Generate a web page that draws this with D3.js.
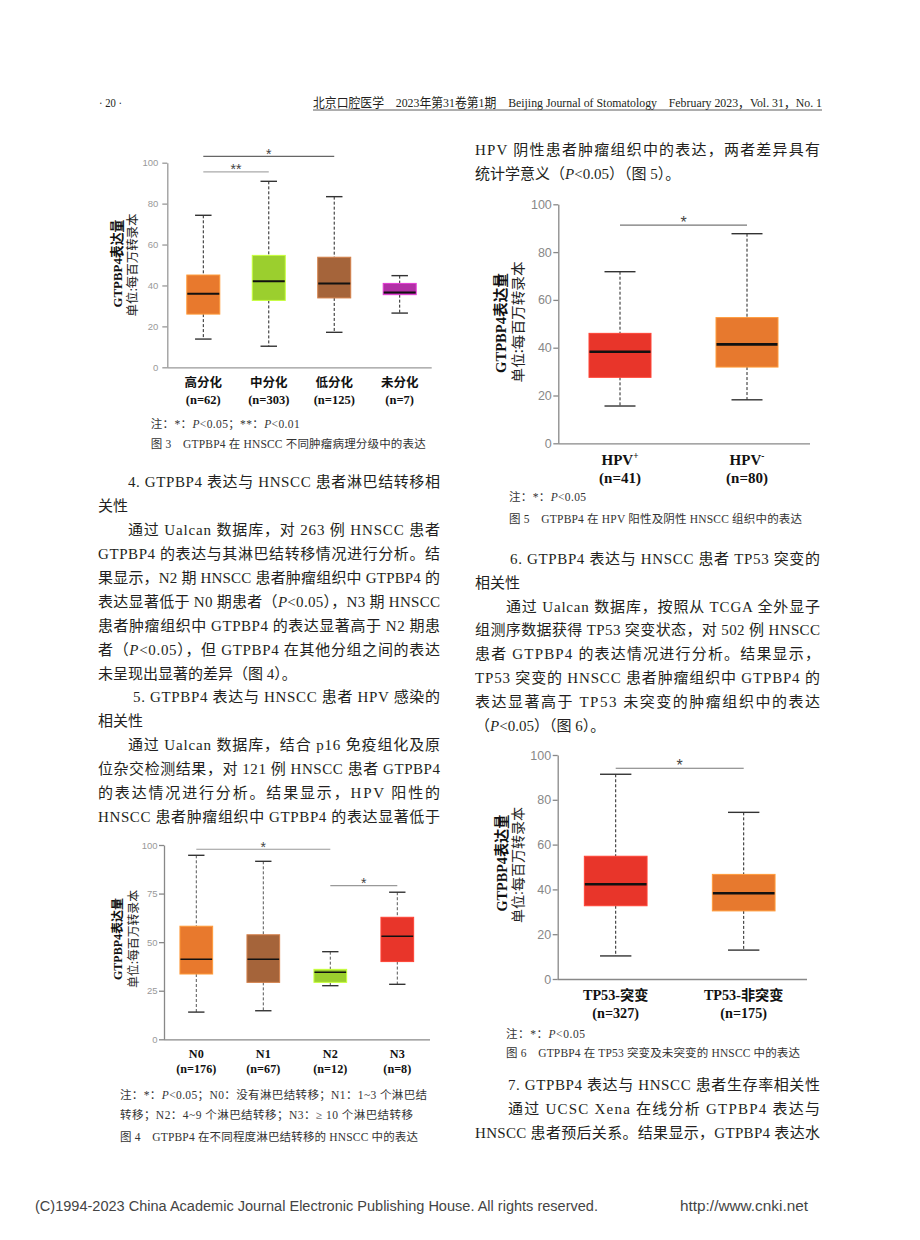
<!DOCTYPE html>
<html><head><meta charset="utf-8">
<script src="https://cdn.jsdelivr.net/npm/d3@7"></script>
<style>html,body{margin:0;padding:0;background:#fff;} svg{display:block;}</style>
</head><body>
<script>
// ---------------- DATA ----------------
// Figure 3: pathological grade
const fig3Groups = ["高分化", "中分化", "低分化", "未分化"];
const fig3N = ["(n=62)", "(n=303)", "(n=125)", "(n=7)"];
const fig3Low = [13.8, 10.3, 17.1, 26.5];
const fig3Q1 = [26.0, 32.7, 33.9, 35.5];
const fig3Median = [36.0, 42.0, 41.0, 36.5];
const fig3Q3 = [45.1, 54.7, 53.8, 41.0];
const fig3High = [74.3, 90.9, 83.4, 44.8];
const fig3Ticks = [0, 20, 40, 60, 80, 100];
const fig3SigPairs = [[0, 2], [0, 1]];
const fig3SigLabels = ["*", "**"];
const fig3SigLevels = [103.1, 95.5];

// Figure 4: lymph node metastasis
const fig4Groups = ["N0", "N1", "N2", "N3"];
const fig4N = ["(n=176)", "(n=67)", "(n=12)", "(n=8)"];
const fig4Low = [14.0, 14.7, 27.6, 28.3];
const fig4Q1 = [33.6, 29.3, 29.3, 40.0];
const fig4Median = [41.2, 41.2, 34.5, 53.0];
const fig4Q3 = [58.2, 53.8, 36.0, 62.8];
const fig4High = [94.7, 91.6, 45.1, 75.7];
const fig4Ticks = [0, 25, 50, 75, 100];
const fig4SigPairs = [[0, 2], [2, 3]];
const fig4SigLabels = ["*", "*"];
const fig4SigLevels = [97.8, 79.1];

// Figure 5: HPV status
const fig5Groups = ["HPV+", "HPV-"];
const fig5N = ["(n=41)", "(n=80)"];
const fig5Low = [15.6, 18.2];
const fig5Q1 = [27.6, 31.9];
const fig5Median = [38.3, 41.4];
const fig5Q3 = [46.0, 52.6];
const fig5High = [71.8, 87.7];
const fig5Ticks = [0, 20, 40, 60, 80, 100];
const fig5SigPairs = [[0, 1]];
const fig5SigLabels = ["*"];
const fig5SigLevels = [91.3];

// Figure 6: TP53 status
const fig6Groups = ["TP53-突变", "TP53-非突变"];
const fig6N = ["(n=327)", "(n=175)"];
const fig6Low = [10.3, 12.9];
const fig6Q1 = [32.7, 30.4];
const fig6Median = [42.3, 38.3];
const fig6Q3 = [54.8, 46.7];
const fig6High = [91.4, 74.4];
const fig6Ticks = [0, 20, 40, 60, 80, 100];
const fig6SigPairs = [[0, 1]];
const fig6SigLabels = ["*"];
const fig6SigLevels = [94.1];

const yLabelMain = "GTPBP4表达量";
const yLabelUnit = "单位:每百万转录本";

// ---------------- SETUP ----------------
const SERIF = "'Liberation Serif','Times New Roman','Noto Sans CJK SC',serif";
const CJK = "'Noto Sans CJK SC','Liberation Serif',sans-serif";
const SANS = "'Liberation Sans',Arial,'Noto Sans CJK SC',sans-serif";
const TEXT = "#231f20";

const svg = d3.select("body").append("svg").attr("width", 920).attr("height", 1240);
svg.append("rect").attr("width", 920).attr("height", 1240).attr("fill", "#fff");

function richText(sel, str) {
  str.split(/(P(?=<))/).forEach(p => {
    if (!p) return;
    const ts = sel.append("tspan").text(p);
    if (p === "P") ts.attr("font-style", "italic");
  });
}
function line(opt) {
  const t = svg.append("text")
    .attr("x", opt.x).attr("y", opt.y + opt.size * 0.36)
    .attr("font-family", opt.family || SERIF)
    .attr("font-size", opt.size)
    .attr("fill", opt.color || TEXT);
  if (opt.weight) t.attr("font-weight", opt.weight);
  richText(t, opt.t);
  if (opt.len) t.attr("textLength", opt.len).attr("lengthAdjust", opt.adjust || "spacing");
  return t;
}

// ---------------- HEADER / FOOTER ----------------
line({x: 99, y: 102, t: "· 20 ·", size: 12.5, len: 23, adjust: "spacingAndGlyphs"});
line({x: 313, y: 102, t: "北京口腔医学　2023年第31卷第1期　Beijing Journal of Stomatology　February 2023，Vol. 31，No. 1",
      size: 13, len: 509, adjust: "spacingAndGlyphs"});
svg.append("line").attr("x1", 313).attr("x2", 822).attr("y1", 110).attr("y2", 110)
  .attr("stroke", "#333").attr("stroke-width", 0.8);

line({x: 35, y: 1205, t: "(C)1994-2023 China Academic Journal Electronic Publishing House. All rights reserved.",
      size: 15.5, family: SANS, color: "#444", len: 563, adjust: "spacingAndGlyphs"});
line({x: 680, y: 1205, t: "http://www.cnki.net", size: 15.5, family: SANS, color: "#444", len: 128, adjust: "spacingAndGlyphs"});

// ---------------- BODY TEXT ----------------
const leftLines = [
  [128, "4. GTPBP4 表达与 HNSCC 患者淋巴结转移相", true],
  [98, "关性", false],
  [128, "通过 Ualcan 数据库，对 263 例 HNSCC 患者", true],
  [98, "GTPBP4 的表达与其淋巴结转移情况进行分析。结", true],
  [98, "果显示，N2 期 HNSCC 患者肿瘤组织中 GTPBP4 的", true],
  [98, "表达显著低于 N0 期患者（P<0.05），N3 期 HNSCC", true],
  [98, "患者肿瘤组织中 GTPBP4 的表达显著高于 N2 期患", true],
  [98, "者（P<0.05），但 GTPBP4 在其他分组之间的表达", true],
  [98, "未呈现出显著的差异（图 4）。", false],
  [133, "5. GTPBP4 表达与 HNSCC 患者 HPV 感染的", true],
  [98, "相关性", false],
  [128, "通过 Ualcan 数据库，结合 p16 免疫组化及原", true],
  [98, "位杂交检测结果，对 121 例 HNSCC 患者 GTPBP4", true],
  [98, "的表达情况进行分析。结果显示，HPV 阳性的", true],
  [98, "HNSCC 患者肿瘤组织中 GTPBP4 的表达显著低于", true]
];
leftLines.forEach((d, i) => {
  line({x: d[0], y: 481.7 + i * 23.93, t: d[1], size: 15, len: d[2] ? 440 - d[0] : null});
});
const rightLines = [
  [475, 150, "HPV 阴性患者肿瘤组织中的表达，两者差异具有", true],
  [475, 173.5, "统计学意义（P<0.05）（图 5）。", false],
  [510, 558.3, "6. GTPBP4 表达与 HNSCC 患者 TP53 突变的", true],
  [475, 582.2, "相关性", false],
  [506, 606.1, "通过 Ualcan 数据库，按照从 TCGA 全外显子", true],
  [475, 630, "组测序数据获得 TP53 突变状态，对 502 例 HNSCC", true],
  [475, 654, "患者 GTPBP4 的表达情况进行分析。结果显示，", true],
  [475, 678, "TP53 突变的 HNSCC 患者肿瘤组织中 GTPBP4 的", true],
  [475, 702, "表达显著高于 TP53 未突变的肿瘤组织中的表达", true],
  [475, 726, "（P<0.05）（图 6）。", false],
  [508, 1085, "7. GTPBP4 表达与 HNSCC 患者生存率相关性", true],
  [508, 1109, "通过 UCSC Xena 在线分析 GTPBP4 表达与", true],
  [475, 1133, "HNSCC 患者预后关系。结果显示，GTPBP4 表达水", true]
];
rightLines.forEach(d => {
  line({x: d[0], y: d[1], t: d[2], size: 15, len: d[3] ? 820 - d[0] : null});
});

// ---------------- BOX PLOTS ----------------
function boxPlot(c) {
  const g = svg.append("g");
  const y = d3.scaleLinear().domain([0, 100]).range([c.y0, c.y100]);
  const x = d3.scalePoint().domain(c.groups).range(c.centers);
  const idx = d3.range(c.groups.length);
  const cx = i => x(c.groups[i]);

  const ax = d3.axisLeft(y).tickValues(c.ticks).tickSize(c.tick).tickSizeOuter(0).tickPadding(c.pad);
  const axg = g.append("g").attr("transform", `translate(${c.axisX},0)`).call(ax)
    .attr("font-family", SANS).attr("font-size", c.tickFont);
  axg.select(".domain").attr("stroke", c.axisColor).attr("stroke-width", 1.3);
  axg.selectAll(".tick line").attr("stroke", c.axisColor).attr("stroke-width", 1.3);
  axg.selectAll(".tick text").attr("fill", c.tickColor);
  g.append("line").attr("x1", c.axisX).attr("x2", c.axisX1).attr("y1", y(0) + 0.5).attr("y2", y(0) + 0.5)
    .attr("stroke", c.axisColor).attr("stroke-width", 1.3);

  const bw = c.boxW, cw = c.boxW / 2;
  // whiskers
  g.selectAll(".whHi").data(idx).join("line")
    .attr("x1", cx).attr("x2", cx).attr("y1", i => y(c.high[i])).attr("y2", i => y(c.q3[i]))
    .attr("stroke", c.whiskerColor).attr("stroke-width", 1).attr("stroke-dasharray", "3,2");
  g.selectAll(".whLo").data(idx).join("line")
    .attr("x1", cx).attr("x2", cx).attr("y1", i => y(c.q1[i])).attr("y2", i => y(c.low[i]))
    .attr("stroke", c.whiskerColor).attr("stroke-width", 1).attr("stroke-dasharray", "3,2");
  // caps
  g.selectAll(".capHi").data(idx).join("line")
    .attr("x1", i => cx(i) - cw / 2).attr("x2", i => cx(i) + cw / 2)
    .attr("y1", i => y(c.high[i])).attr("y2", i => y(c.high[i]))
    .attr("stroke", "#333").attr("stroke-width", 1.4);
  g.selectAll(".capLo").data(idx).join("line")
    .attr("x1", i => cx(i) - cw / 2).attr("x2", i => cx(i) + cw / 2)
    .attr("y1", i => y(c.low[i])).attr("y2", i => y(c.low[i]))
    .attr("stroke", "#333").attr("stroke-width", 1.4);
  // boxes
  g.selectAll(".box").data(idx).join("rect")
    .attr("x", i => cx(i) - bw / 2).attr("width", bw)
    .attr("y", i => y(c.q3[i])).attr("height", i => y(c.q1[i]) - y(c.q3[i]))
    .attr("fill", i => c.colors[i])
    .attr("stroke", i => d3.color(c.colors[i]).brighter(0.7)).attr("stroke-width", 1);
  // medians
  g.selectAll(".med").data(idx).join("line")
    .attr("x1", i => cx(i) - bw / 2 + 0.5).attr("x2", i => cx(i) + bw / 2 - 0.5)
    .attr("y1", i => y(c.median[i])).attr("y2", i => y(c.median[i]))
    .attr("stroke", "#111").attr("stroke-width", c.medW);

  // significance
  c.sigPairs.forEach((p, k) => {
    const yy = y(c.sigLevels[k]);
    const x1 = cx(p[0]), x2 = cx(p[1]);
    g.append("line").attr("x1", x1).attr("x2", x2).attr("y1", yy).attr("y2", yy)
      .attr("stroke", c.sigColors[k]).attr("stroke-width", 1.1);
    g.append("text").attr("x", (x1 + x2) / 2).attr("y", yy + c.starDy)
      .attr("text-anchor", "middle").attr("font-family", SANS).attr("font-size", c.starSize)
      .attr("fill", "#444").text(c.sigLabels[k]);
  });

  // x labels
  idx.forEach(i => {
    const lab = c.groups[i];
    const t = g.append("text").attr("x", cx(i)).attr("y", c.labY1 + c.labFont * 0.36)
      .attr("text-anchor", "middle").attr("font-family", c.labFamily1)
      .attr("font-weight", c.labWeight1 || "bold").attr("font-size", c.labFont).attr("fill", "#111");
    if (c.superscript) {
      t.append("tspan").text(lab.slice(0, -1));
      t.append("tspan").attr("font-size", c.labFont * 0.62).attr("dy", -c.labFont * 0.45).text(lab.slice(-1));
    } else {
      t.text(lab);
    }
    g.append("text").attr("x", cx(i)).attr("y", c.labY2 + c.labFont * 0.36)
      .attr("text-anchor", "middle").attr("font-family", SERIF)
      .attr("font-weight", "bold").attr("font-size", c.labFont).attr("fill", "#111").text(c.n[i]);
  });

  // y label
  const yl = c.yLab;
  g.append("text").attr("transform", `translate(${yl.x1},${yl.cy1}) rotate(-90)`)
    .attr("text-anchor", "middle").attr("dominant-baseline", "central")
    .attr("font-family", SERIF).attr("font-weight", "bold").attr("font-size", yl.s1)
    .attr("fill", "#111").attr("textLength", yl.len1).attr("lengthAdjust", "spacingAndGlyphs").text(yLabelMain);
  g.append("text").attr("transform", `translate(${yl.x2},${yl.cy2}) rotate(-90)`)
    .attr("text-anchor", "middle").attr("dominant-baseline", "central")
    .attr("font-family", CJK).attr("font-size", yl.s2)
    .attr("fill", "#222").attr("textLength", yl.len2).attr("lengthAdjust", "spacingAndGlyphs").text(yLabelUnit);
}

boxPlot({
  groups: fig3Groups, n: fig3N, low: fig3Low, q1: fig3Q1, median: fig3Median, q3: fig3Q3, high: fig3High,
  ticks: fig3Ticks, sigPairs: fig3SigPairs, sigLabels: fig3SigLabels, sigLevels: fig3SigLevels,
  y0: 367.3, y100: 162.7, axisX: 167.3, axisX1: 431.7, centers: [203.3, 399.7], boxW: 33,
  tick: 5, pad: 4, tickFont: 9.5, axisColor: "#999", tickColor: "#999", medW: 2, whiskerColor: "#222",
  colors: ["#E8792D", "#9BCF2E", "#A5643A", "#B22FA6"],
  sigColors: ["#666", "#aaa"], starDy: 2.5, starSize: 14,
  labY1: 382.7, labY2: 399, labFont: 12.5, labFamily1: CJK, labWeight1: "600",
  yLab: {x1: 117, cy1: 263.5, s1: 13.5, len1: 88, x2: 131, cy2: 265, s2: 12.5, len2: 103}
});

boxPlot({
  groups: fig5Groups, n: fig5N, low: fig5Low, q1: fig5Q1, median: fig5Median, q3: fig5Q3, high: fig5High,
  ticks: fig5Ticks, sigPairs: fig5SigPairs, sigLabels: fig5SigLabels, sigLevels: fig5SigLevels,
  y0: 443.3, y100: 204.3, axisX: 558.3, axisX1: 810, centers: [620, 747], boxW: 62,
  tick: 5, pad: 1.5, tickFont: 12.5, axisColor: "#888", tickColor: "#888", medW: 2.6, whiskerColor: "#222",
  colors: ["#E8352A", "#E7792E"],
  sigColors: ["#777"], starDy: 2.5, starSize: 16,
  labY1: 460, labY2: 477.7, labFont: 15, labFamily1: SERIF, superscript: true,
  yLab: {x1: 500.7, cy1: 323, s1: 14.5, len1: 100, x2: 516.7, cy2: 322, s2: 14, len2: 121}
});

boxPlot({
  groups: fig4Groups, n: fig4N, low: fig4Low, q1: fig4Q1, median: fig4Median, q3: fig4Q3, high: fig4High,
  ticks: fig4Ticks, sigPairs: fig4SigPairs, sigLabels: fig4SigLabels, sigLevels: fig4SigLevels,
  y0: 1039.3, y100: 845, axisX: 164, axisX1: 430, centers: [196.3, 397.3], boxW: 32.7,
  tick: 5, pad: 1.5, tickFont: 9.5, axisColor: "#888", tickColor: "#999", medW: 1.6, whiskerColor: "#555",
  colors: ["#E8792D", "#A5643A", "#9BCF2E", "#E8352A"],
  sigColors: ["#999", "#999"], starDy: 2.5, starSize: 14,
  labY1: 1054, labY2: 1069, labFont: 12.2, labFamily1: SERIF,
  yLab: {x1: 118, cy1: 939, s1: 12.5, len1: 82, x2: 132.5, cy2: 939, s2: 12, len2: 98}
});

boxPlot({
  groups: fig6Groups, n: fig6N, low: fig6Low, q1: fig6Q1, median: fig6Median, q3: fig6Q3, high: fig6High,
  ticks: fig6Ticks, sigPairs: fig6SigPairs, sigLabels: fig6SigLabels, sigLevels: fig6SigLevels,
  y0: 979, y100: 755, axisX: 557.7, axisX1: 807, centers: [615.7, 743.7], boxW: 62.7,
  tick: 5, pad: 1.5, tickFont: 12.5, axisColor: "#888", tickColor: "#888", medW: 2.6, whiskerColor: "#222",
  colors: ["#E8352A", "#E7792E"],
  sigColors: ["#777"], starDy: 2.5, starSize: 16,
  labY1: 995, labY2: 1012.7, labFont: 14.2, labFamily1: SERIF,
  yLab: {x1: 501.7, cy1: 863, s1: 14.5, len1: 97, x2: 516.7, cy2: 865, s2: 14, len2: 116}
});

// ---------------- NOTES & CAPTIONS ----------------
const notes = [
  [150.7, 424, "注：*：P<0.05；**：P<0.01", 149],
  [150.7, 444.3, "图 3　GTPBP4 在 HNSCC 不同肿瘤病理分级中的表达", 275],
  [509, 497.3, "注：*：P<0.05", 77],
  [509, 519.3, "图 5　GTPBP4 在 HPV 阳性及阴性 HNSCC 组织中的表达", 293],
  [120, 1095, "注：*：P<0.05；N0：没有淋巴结转移；N1：1~3 个淋巴结", 307],
  [120, 1115, "转移；N2：4~9 个淋巴结转移；N3：≥ 10 个淋巴结转移", 293],
  [120, 1137, "图 4　GTPBP4 在不同程度淋巴结转移的 HNSCC 中的表达", 298],
  [506, 1034, "注：*：P<0.05", 79],
  [506, 1053.3, "图 6　GTPBP4 在 TP53 突变及未突变的 HNSCC 中的表达", 294]
];
notes.forEach(d => line({x: d[0], y: d[1], t: d[2], size: 11.5, color: "#333", len: d[3]}));
</script>
</body></html>
